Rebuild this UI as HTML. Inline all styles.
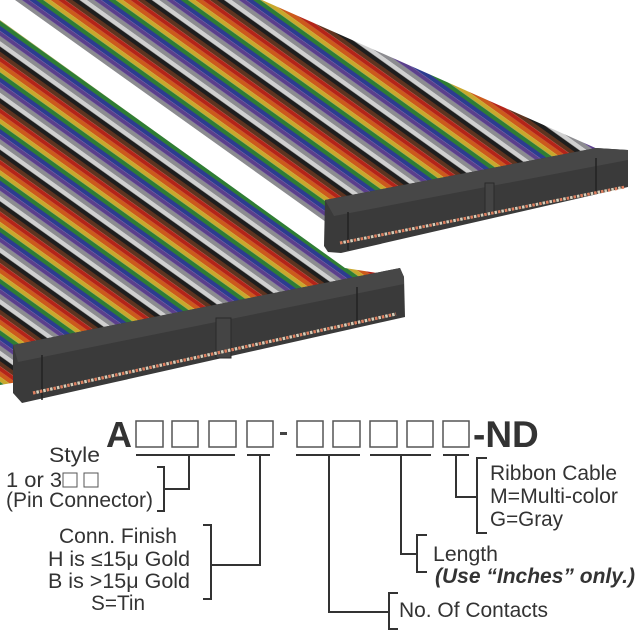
<!DOCTYPE html>
<html><head><meta charset="utf-8"><style>
html,body{margin:0;padding:0;background:#fff;}
svg{display:block;}
text{font-family:"Liberation Sans",sans-serif;fill:#333;}
</style></head><body>
<svg width="640" height="640" viewBox="0 0 640 640" xmlns="http://www.w3.org/2000/svg">
<defs>
<pattern id="rib" width="20" height="42" patternUnits="userSpaceOnUse" patternTransform="rotate(35.5)">
<rect x="0" y="0" width="20" height="4.2" fill="#5e3420"/>
<rect x="0" y="4.2" width="20" height="4.2" fill="#b42418"/>
<rect x="0" y="8.4" width="20" height="4.2" fill="#cc5a1c"/>
<rect x="0" y="12.6" width="20" height="4.2" fill="#c9a82c"/>
<rect x="0" y="16.8" width="20" height="4.2" fill="#2f7d34"/>
<rect x="0" y="21" width="20" height="4.2" fill="#2c3c90"/>
<rect x="0" y="25.2" width="20" height="4.2" fill="#5b3f8c"/>
<rect x="0" y="29.4" width="20" height="4.2" fill="#8c8c90"/>
<rect x="0" y="33.6" width="20" height="4.2" fill="#d0d0d0"/>
<rect x="0" y="37.8" width="20" height="4.2" fill="#1e1e1e"/>
</pattern>
</defs>
<polygon points="15,0 262,0 600,150 600,170 340,232 323,220" fill="url(#rib)"/>
<polygon points="0,20 345,268 390,275 60,375 0,385" fill="url(#rib)"/>
<polygon points="325,200 596,148 628,150 628,187 341,253 328,252 324,246" fill="#3a3a3a"/>
<polygon points="325,200 596,148 628,150 628,160 334,216" fill="#474747"/>
<line x1="348" y1="212" x2="348" y2="250" stroke="#222" stroke-width="1.5"/>
<rect x="485" y="183" width="9" height="30" fill="#444" stroke="#2a2a2a" stroke-width="1"/>
<line x1="596" y1="158" x2="596" y2="192" stroke="#222" stroke-width="1.5"/>
<line x1="340" y1="243" x2="625" y2="187" stroke="#e08060" stroke-width="3" stroke-dasharray="2.5 4.5"/>
<line x1="340" y1="243" x2="625" y2="187" stroke="#e8e0c8" stroke-width="3" stroke-dasharray="2.5 4.5" stroke-dashoffset="3.5" opacity="0.9"/>
<polygon points="13,345 400,268 404,277 405,317 22,403 13,393" fill="#3a3a3a"/>
<polygon points="13,345 400,268 404,277 404,284 18,362" fill="#474747"/>
<line x1="42" y1="355" x2="42" y2="400" stroke="#222" stroke-width="1.5"/>
<rect x="216" y="318" width="15" height="40" fill="#444" stroke="#2a2a2a" stroke-width="1"/>
<line x1="357" y1="287" x2="357" y2="325" stroke="#222" stroke-width="1.5"/>
<line x1="33" y1="393" x2="396" y2="314" stroke="#e08060" stroke-width="3.2" stroke-dasharray="2.5 4.5"/>
<line x1="33" y1="393" x2="396" y2="314" stroke="#e8e0c8" stroke-width="3.2" stroke-dasharray="2.5 4.5" stroke-dashoffset="3.5" opacity="0.9"/>

<text x="106" y="447" font-size="36" font-weight="bold" fill="#333">A</text>
<g fill="none" stroke="#555" stroke-width="1.5">
<rect x="136" y="421" width="27" height="26"/>
<rect x="172" y="421" width="26" height="26"/>
<rect x="209" y="421" width="27" height="26"/>
<rect x="247" y="421" width="26" height="26"/>
<rect x="297" y="421" width="26" height="26"/>
<rect x="333" y="421" width="27" height="26"/>
<rect x="370" y="421" width="27" height="26"/>
<rect x="407" y="421" width="26" height="26"/>
<rect x="443" y="421" width="26" height="26"/>
</g>
<rect x="280" y="432" width="7" height="3" fill="#444"/>
<text x="473" y="447" font-size="37" font-weight="bold" fill="#333">-ND</text>

<g stroke="#333" stroke-width="2" fill="none">
<line x1="136" y1="455" x2="235" y2="455"/>
<line x1="247" y1="455" x2="270" y2="455"/>
<line x1="296" y1="455" x2="360" y2="455"/>
<line x1="370" y1="455" x2="431" y2="455"/>
<line x1="443" y1="455" x2="469" y2="455"/>
<polyline points="189,455 189,489 164,489"/>
<polyline points="157,467 164,467 164,511 157,511"/>
<polyline points="260,455 260,565 211,565"/>
<polyline points="203,525 211,525 211,599 203,599"/>
<polyline points="329,455 329,612 389,612"/>
<polyline points="398,593 389,593 389,629 398,629"/>
<polyline points="401,455 401,554 417,554"/>
<polyline points="427,535 417,535 417,572 427,572"/>
<polyline points="456,455 456,497 477,497"/>
<polyline points="487,458 477,458 477,533 487,533"/>
</g>

<g font-size="21" lengthAdjust="spacingAndGlyphs">
<text x="49" y="462" textLength="51" lengthAdjust="spacingAndGlyphs">Style</text>
<text x="6" y="487" textLength="56" lengthAdjust="spacingAndGlyphs">1 or 3</text>
<text x="6" y="507" textLength="147" lengthAdjust="spacingAndGlyphs">(Pin Connector)</text>
<text x="59" y="543" textLength="118" lengthAdjust="spacingAndGlyphs">Conn. Finish</text>
<text x="48" y="566" textLength="142" lengthAdjust="spacingAndGlyphs">H is ≤15μ  Gold</text>
<text x="48" y="588" textLength="142" lengthAdjust="spacingAndGlyphs">B is &gt;15μ  Gold</text>
<text x="91" y="610" textLength="54" lengthAdjust="spacingAndGlyphs">S=Tin</text>
<text x="399" y="617" textLength="149" lengthAdjust="spacingAndGlyphs">No. Of Contacts</text>
<text x="433" y="561" textLength="65" lengthAdjust="spacingAndGlyphs">Length</text>
<text x="435" y="583" font-weight="bold" font-style="italic" textLength="200" lengthAdjust="spacingAndGlyphs">(Use “Inches” only.)</text>
<text x="490" y="480" textLength="127" lengthAdjust="spacingAndGlyphs">Ribbon Cable</text>
<text x="490" y="503" textLength="128" lengthAdjust="spacingAndGlyphs">M=Multi-color</text>
<text x="490" y="526" textLength="73" lengthAdjust="spacingAndGlyphs">G=Gray</text>
</g>
<rect x="63" y="473" width="14" height="14" fill="none" stroke="#555" stroke-width="1"/>
<rect x="84" y="473" width="14" height="14" fill="none" stroke="#555" stroke-width="1"/>
</svg>
</body></html>
